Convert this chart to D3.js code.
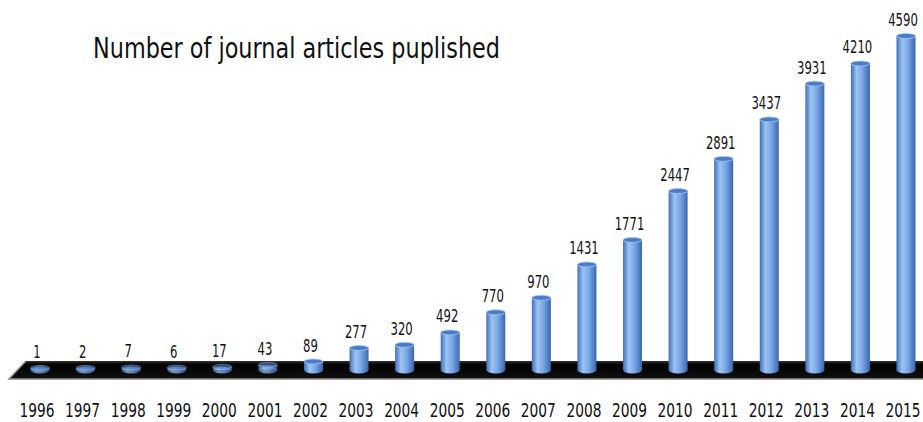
<!DOCTYPE html>
<html>
<head>
<meta charset="utf-8">
<script src="https://cdn.jsdelivr.net/npm/d3@7"></script>
<style>
  body { margin: 0; background: #fff; }
  text { font-family: "Liberation Sans Narrow", "DejaVu Sans Condensed", "Roboto Condensed", sans-serif; fill: #111; }
</style>
</head>
<body>
<div class="chart"></div>
<script>
// chart data
var years = ["1996", "1997", "1998", "1999", "2000", "2001", "2002", "2003", "2004", "2005",
             "2006", "2007", "2008", "2009", "2010", "2011", "2012", "2013", "2014", "2015"];
var articles = [1, 2, 7, 6, 17, 43, 89, 277, 320, 492, 770, 970, 1431, 1771, 2447, 2891, 3437, 3931, 4210, 4590];
var chartTitle = "Number of journal articles puplished";

var svgWidth = 923;
var svgHeight = 422;
var baseY = 370;

var svg = d3.select(".chart")
    .append("svg")
    .attr("width", svgWidth)
    .attr("height", svgHeight);

var defs = svg.append("defs");
var grad = defs.append("linearGradient").attr("id", "cyl")
    .attr("x1", "0%").attr("x2", "100%").attr("y1", "0%").attr("y2", "0%");
grad.append("stop").attr("offset", "0%").attr("stop-color", "#3f6fb8");
grad.append("stop").attr("offset", "30%").attr("stop-color", "#9cc3f3");
grad.append("stop").attr("offset", "60%").attr("stop-color", "#7aa7e6");
grad.append("stop").attr("offset", "100%").attr("stop-color", "#3a66ad");

var floorGrad = defs.append("linearGradient").attr("id", "floor")
    .attr("x1", "0%").attr("x2", "0%").attr("y1", "0%").attr("y2", "100%");
floorGrad.append("stop").attr("offset", "0%").attr("stop-color", "#333");
floorGrad.append("stop").attr("offset", "20%").attr("stop-color", "#000");
floorGrad.append("stop").attr("offset", "100%").attr("stop-color", "#111");

// scales
var x = d3.scalePoint()
    .domain(years)
    .range([40, 906]);

var y = d3.scaleLinear()
    .domain([0, 4590])
    .range([baseY - 2, 36]);

var barW = 19;

// floor
svg.append("polygon")
    .attr("points", "26,361 923,361 923,379 9,379")
    .attr("fill", "url(#floor)");
svg.append("path")
    .attr("d", "M26,361 L9,379 L923,379")
    .attr("fill", "none")
    .attr("stroke", "#8a8a8a")
    .attr("stroke-width", 1.5);

// bars as cylinders
var bars = svg.selectAll("g.bar")
    .data(articles)
    .enter()
    .append("g")
    .attr("class", "bar");

bars.append("ellipse")
    .attr("cx", (d, i) => x(years[i]))
    .attr("cy", baseY)
    .attr("rx", barW / 2)
    .attr("ry", 3.5)
    .attr("fill", "url(#cyl)")
    .attr("opacity", d => d < 50 ? 0.75 : 1);

bars.append("rect")
    .attr("x", (d, i) => x(years[i]) - barW / 2)
    .attr("y", d => y(d))
    .attr("width", barW)
    .attr("height", d => Math.max(0, baseY - y(d)))
    .attr("fill", "url(#cyl)")
    .attr("opacity", d => d < 50 ? 0.75 : 1);

bars.append("ellipse")
    .attr("cx", (d, i) => x(years[i]))
    .attr("cy", d => y(d))
    .attr("rx", barW / 2)
    .attr("ry", 2.5)
    .attr("fill", "#4b7cc6")
    .attr("stroke", "#a9c9f0")
    .attr("stroke-width", 0.8)
    .attr("opacity", d => d < 50 ? 0.6 : 1);

// value labels (narrowed to match the condensed look)
svg.selectAll("text.val")
    .data(articles)
    .enter()
    .append("text")
    .attr("class", "val")
    .attr("x", (d, i) => x(years[i]) - 3)
    .attr("y", d => y(d) - 10)
    .attr("text-anchor", "middle")
    .attr("font-size", "17px")
    .attr("textLength", d => String(d).length * 7.4)
    .attr("lengthAdjust", "spacingAndGlyphs")
    .text(d => d);

// year axis labels
svg.selectAll("text.year")
    .data(years)
    .enter()
    .append("text")
    .attr("class", "year")
    .attr("x", d => x(d) - 3)
    .attr("y", 417)
    .attr("text-anchor", "middle")
    .attr("font-size", "19px")
    .attr("textLength", 35)
    .attr("lengthAdjust", "spacingAndGlyphs")
    .text(d => d);

// title
svg.append("text")
    .attr("x", 93)
    .attr("y", 58)
    .attr("font-size", "28px")
    .attr("textLength", 407)
    .attr("lengthAdjust", "spacingAndGlyphs")
    .text(chartTitle);
</script>
</body>
</html>
